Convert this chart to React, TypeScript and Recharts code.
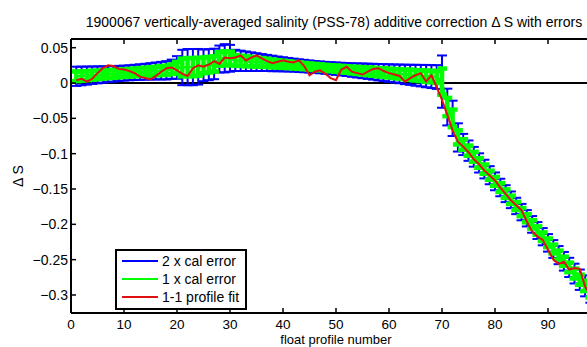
import React from 'react';
import {
  LineChart,
  Line,
  XAxis,
  YAxis,
  ErrorBar,
  ReferenceLine,
  Legend,
} from 'recharts';

const FONT = '"Liberation Sans", Arial, Helvetica, sans-serif';
const BLUE = '#0000ff';
const GREEN = '#00ff00';
const RED = '#e01010';

const TITLE = '1900067 vertically-averaged salinity (PSS-78) additive correction \u0394 S with errors';

// float profile numbers
const PROFILE = [
  1, 2, 3, 4, 5, 6, 7, 8, 9, 10,
  11, 12, 13, 14, 15, 16, 17, 18, 19, 20,
  21, 22, 23, 24, 25, 26, 27, 28, 29, 30,
  31, 32, 33, 34, 35, 36, 37, 38, 39, 40,
  41, 42, 43, 44, 45, 46, 47, 48, 49, 50,
  51, 52, 53, 54, 55, 56, 57, 58, 59, 60,
  61, 62, 63, 64, 65, 66, 67, 68, 69, 70,
  71, 72, 73, 74, 75, 76, 77, 78, 79, 80,
  81, 82, 83, 84, 85, 86, 87, 88, 89, 90,
  91, 92, 93, 94, 95, 96, 97, 98,
];

// calibration fit (centre of the error bars)
const FIT = [
  0.0095, 0.01, 0.0105, 0.011, 0.0115, 0.012, 0.0125, 0.013, 0.0135, 0.014,
  0.0145, 0.015, 0.0155, 0.016, 0.0165, 0.017, 0.0175, 0.018, 0.0195, 0.022,
  0.022, 0.0225, 0.0225, 0.023, 0.025, 0.026, 0.027, 0.034, 0.035, 0.035,
  0.032, 0.0314, 0.0308, 0.0302, 0.0296, 0.029, 0.0284, 0.0277, 0.0271, 0.0265,
  0.0259, 0.0253, 0.0246, 0.024, 0.0234, 0.0228, 0.0222, 0.0215, 0.0209, 0.0203,
  0.0197, 0.0191, 0.0184, 0.0178, 0.0172, 0.0166, 0.016, 0.0153, 0.0147, 0.0141,
  0.0135, 0.0129, 0.0122, 0.0116, 0.011, 0.0104, 0.0098, 0.0091, 0.0085, 0.002,
  -0.034, -0.05, -0.077, -0.087, -0.0957, -0.1044, -0.1131, -0.1218, -0.1305, -0.1392,
  -0.1479, -0.1566, -0.1653, -0.174, -0.1827, -0.1914, -0.2001, -0.2088, -0.2175, -0.2262,
  -0.2349, -0.2436, -0.2523, -0.261, -0.2697, -0.2784, -0.2871, -0.2958,
];

// 1 x calibration error
const ERR = [
  0.0068, 0.0066, 0.0064, 0.0062, 0.006, 0.0058, 0.0056, 0.0055, 0.0054, 0.0053,
  0.0053, 0.0054, 0.0055, 0.0056, 0.0058, 0.006, 0.0062, 0.0065, 0.0068, 0.008,
  0.0125, 0.0128, 0.0128, 0.0126, 0.0112, 0.011, 0.0108, 0.0095, 0.01, 0.0095,
  0.0075, 0.0072, 0.0069, 0.0066, 0.0063, 0.006, 0.0057, 0.0055, 0.0052, 0.005,
  0.0048, 0.0046, 0.0045, 0.0044, 0.0043, 0.0042, 0.0042, 0.0042, 0.0043, 0.0044,
  0.0045, 0.0046, 0.0048, 0.005, 0.0052, 0.0054, 0.0056, 0.0058, 0.006, 0.0062,
  0.0064, 0.0066, 0.0069, 0.0071, 0.0074, 0.0076, 0.0079, 0.0081, 0.0084, 0.0185,
  0.013, 0.0125, 0.01, 0.0075, 0.0072, 0.007, 0.0068, 0.0066, 0.0064, 0.0063,
  0.0062, 0.006, 0.0059, 0.0058, 0.0058, 0.0058, 0.0059, 0.006, 0.0061, 0.0062,
  0.0063, 0.0064, 0.0066, 0.0068, 0.007, 0.0072, 0.0074, 0.0076,
];

// 1-1 profile fit
const PROFILE_FIT = [
  0.004, 0.006, 0.002, 0.006, 0.014, 0.021, 0.025, 0.024, 0.02, 0.019,
  0.017, 0.014, 0.009, 0.007, 0.005, 0.01, 0.016, 0.021, 0.022, 0.018,
  0.013, 0.01, 0.021, 0.025, 0.023, 0.026, 0.031, 0.027, 0.036, 0.035,
  0.036, 0.039, 0.032, 0.036, 0.039, 0.035, 0.031, 0.028, 0.03, 0.032,
  0.03, 0.029, 0.032, 0.024, 0.011, 0.016, 0.018, 0.013, 0.007, 0.004,
  0.019, 0.023, 0.016, 0.014, 0.012, 0.016, 0.02, 0.021, 0.017, 0.014,
  0.012, 0.01, 0.002, 0.007, 0.011, 0.014, 0.002, 0.011, -0.006, -0.024,
  -0.045, -0.067, -0.083, -0.09, -0.098, -0.108, -0.115, -0.124, -0.131, -0.138,
  -0.148, -0.157, -0.166, -0.173, -0.18, -0.196, -0.21, -0.217, -0.222, -0.236,
  -0.25, -0.256, -0.253, -0.264, -0.262, -0.263, -0.288, -0.3,
];

const X_TICKS = [0, 10, 20, 30, 40, 50, 60, 70, 80, 90];
const Y_TICKS = [-0.3, -0.25, -0.2, -0.15, -0.1, -0.05, 0, 0.05];

const LEGEND_ITEMS = [
  { label: '2 x cal error', color: BLUE },
  { label: '1 x cal error', color: GREEN },
  { label: '1-1 profile fit', color: RED },
];

const rows = PROFILE.map((p, i) => ({
  profile: p,
  fit: FIT[i],
  err: ERR[i],
  err2: 2 * ERR[i],
  profileFit: PROFILE_FIT[i],
}));

const fmtY = (v: number) => (v === 0 ? '0' : (v < 0 ? '\u2212' : '') + Math.abs(v));

const BottomTick = (props: any) => {
  const { x, y, payload } = props;
  return (
    <g>
      <line x1={x} x2={x} y1={y - 6} y2={y - 11} stroke="#000" strokeWidth={1.5} />
      <text x={x} y={y} dy="0.71em" textAnchor="middle" fontSize={13.5} fontFamily={FONT} fill="#000">
        {payload.value}
      </text>
    </g>
  );
};

const TopTick = (props: any) => {
  const { x, y } = props;
  return <line x1={x} x2={x} y1={y} y2={y + 5} stroke="#000" strokeWidth={1.5} />;
};

const LeftTick = (props: any) => {
  const { x, y, payload } = props;
  return (
    <g>
      <line x1={x + 3} x2={x + 8} y1={y} y2={y} stroke="#000" strokeWidth={1.5} />
      <text x={x} y={y} dy="0.355em" textAnchor="end" fontSize={14} fontFamily={FONT} fill="#000">
        {fmtY(payload.value)}
      </text>
    </g>
  );
};

const renderLegend = () => (
  <div
    style={{
      width: 128,
      border: '2px solid #000',
      background: '#fff',
      paddingTop: 1,
      paddingBottom: 2,
      fontFamily: FONT,
      fontSize: 14,
      color: '#000',
    }}
  >
    {LEGEND_ITEMS.map((it) => (
      <div key={it.label} style={{ display: 'flex', alignItems: 'center', height: 18 }}>
        <span style={{ display: 'inline-block', width: 36, height: 2, marginLeft: 5, marginRight: 4, background: it.color }} />
        <span style={{ whiteSpace: 'nowrap' }}>{it.label}</span>
      </div>
    ))}
  </div>
);

export default function App() {
  return (
    <div
      style={{
        position: 'absolute',
        left: 0,
        top: 0,
        width: 587,
        height: 347,
        overflow: 'hidden',
        background: '#fff',
        fontFamily: FONT,
      }}
    >
      <div
        style={{
          position: 'absolute',
          left: 71,
          width: 526,
          top: 14,
          textAlign: 'center',
          fontSize: 14,
          lineHeight: '16px',
          whiteSpace: 'nowrap',
          color: '#000',
        }}
      >
        {TITLE}
      </div>
      <LineChart width={605} height={347} data={rows} margin={{ top: 38, right: 4, bottom: 0, left: 0 }}>
        <XAxis
          xAxisId="bottom"
          dataKey="profile"
          type="number"
          domain={[0, 100]}
          ticks={X_TICKS}
          allowDataOverflow
          height={34}
          tickSize={0}
          tickMargin={6}
          tickLine={false}
          tick={<BottomTick />}
          axisLine={{ stroke: '#000', strokeWidth: 2 }}
          label={{ value: 'float profile number', position: 'insideBottom', offset: 3, fontSize: 13, fill: '#000', fontFamily: FONT }}
        />
        <XAxis
          xAxisId="top"
          orientation="top"
          dataKey="profile"
          type="number"
          domain={[0, 100]}
          ticks={X_TICKS}
          allowDataOverflow
          height={1}
          tickSize={0}
          tickMargin={0}
          tickLine={false}
          tick={<TopTick />}
          axisLine={{ stroke: '#000', strokeWidth: 2 }}
        />
        <YAxis
          type="number"
          domain={[-0.3255, 0.0623]}
          ticks={Y_TICKS}
          allowDataOverflow
          width={71}
          tickSize={0}
          tickMargin={3}
          tickLine={false}
          tick={<LeftTick />}
          axisLine={{ stroke: '#000', strokeWidth: 2 }}
          label={{
            content: (p: any) => {
              const vb = p.viewBox || { x: 0, y: 39, height: 274 };
              const cx = vb.x + 18;
              const cy = vb.y + vb.height / 2;
              return (
                <text x={cx} y={cy} transform={`rotate(-90, ${cx}, ${cy})`} textAnchor="middle" dy="0.35em" fontSize={14} fontFamily={FONT} fill="#000">
                  {'\u0394 S'}
                </text>
              );
            },
          }}
        />
        <ReferenceLine xAxisId="bottom" y={0} stroke="#000" strokeWidth={2} />
        <Line xAxisId="bottom" dataKey="fit" stroke={BLUE} strokeWidth={2} dot={false} isAnimationActive={false}>
          <ErrorBar dataKey="err2" width={5} stroke={BLUE} strokeWidth={2} direction="y" isAnimationActive={false} />
        </Line>
        <Line xAxisId="bottom" dataKey="fit" stroke={GREEN} strokeWidth={2} dot={false} isAnimationActive={false}>
          <ErrorBar dataKey="err" width={5} stroke={GREEN} strokeWidth={4.5} direction="y" isAnimationActive={false} />
        </Line>
        <Line xAxisId="bottom" dataKey="profileFit" stroke={RED} strokeWidth={2} dot={false} isAnimationActive={false} />
        <Legend
          layout="horizontal"
          align="center"
          verticalAlign="middle"
          content={renderLegend}
          wrapperStyle={{ left: 115, top: 249, width: 132, height: 59 }}
        />
      </LineChart>
    </div>
  );
}
